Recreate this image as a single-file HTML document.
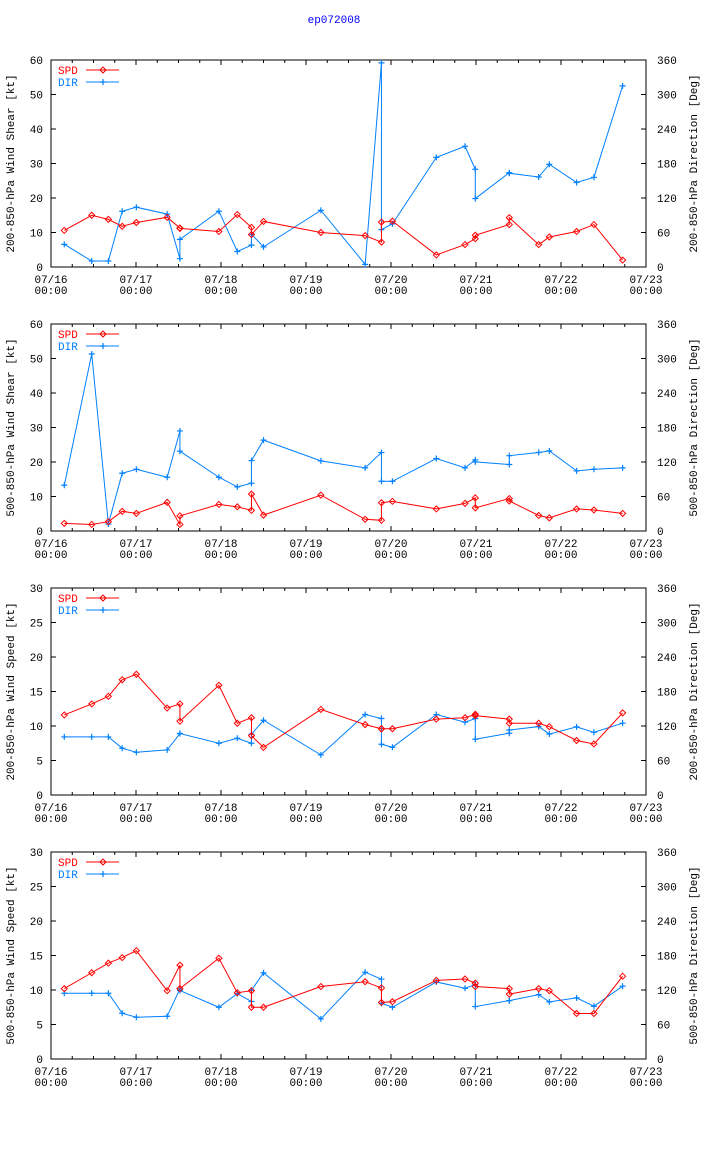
<!DOCTYPE html>
<html><head><meta charset="utf-8"><style>
body{margin:0;background:#fff;}
svg{display:block;font-family:"Liberation Mono",monospace;font-size:11px;}
</style></head><body>
<svg id="chart" width="704" height="1156" viewBox="0 0 704 1156" xmlns="http://www.w3.org/2000/svg">
<text x="334" y="23" fill="#0000ff" text-anchor="middle">ep072008</text>
</svg>
<script>
// shared observation times (hours since 07/16 00:00)
const hours = [3.75,11.5,16.2,20.1,24.1,32.8,36.4,36.4,47.4,52.6,56.6,56.6,60,76.2,88.7,93.3,93.3,96.4,108.8,116.9,119.8,119.8,129.4,129.4,137.7,140.7,148.4,153.3,161.4];
const dayLabels = ["07/16","07/17","07/18","07/19","07/20","07/21","07/22","07/23"];
// panel 1: 200-850 shear
const p1Spd = [10.6,15,13.8,11.8,12.9,14.4,11.3,11.2,10.3,15.2,11.5,9.4,13.2,10,9.1,7.2,13,13.3,3.5,6.5,8.2,9.2,12.3,14.3,6.5,8.7,10.3,12.3,2];
const p1Dir = [39.4,10.4,10.4,97,104,92,14.5,48,97,27,38,57,35,98.5,4.6,355,65,75,190.7,210,170,119,164,163,156.5,178.5,147,156,315];
// panel 2: 500-850 shear
const p2Spd = [2.2,1.9,2.7,5.7,5.1,8.3,1.9,4.4,7.7,7,6,10.7,4.6,10.4,3.4,3.1,8.2,8.6,6.4,8,9.6,6.7,9.4,8.7,4.5,3.8,6.4,6.1,5.1];
const p2Dir = [79.6,307.8,12.2,100.5,107.4,93.5,174,138.8,93.5,76.7,83,122.5,158,122,109.8,136.5,86.5,86.5,126,109.8,123.7,120.2,115.6,131,136.5,139.4,104.5,107.4,109.8];
// panel 3: 200-850 wind speed
const p3Spd = [11.6,13.2,14.3,16.7,17.5,12.6,13.2,10.7,15.9,10.4,11.2,8.6,6.9,12.4,10.2,9.6,9.6,9.6,11,11.2,11.7,11.5,11,10.4,10.4,9.9,7.9,7.4,11.9];
const p3Dir = [101,101,101,81.3,74.3,78.4,106.9,106.9,90,98.7,90,105.7,130,69.7,140,133,88.3,83,140,126.6,133,97,107.4,113,119,106,118.5,109,124.9];
// panel 4: 500-850 wind speed
const p4Spd = [10.2,12.5,13.9,14.7,15.7,9.9,13.6,10.2,14.6,9.6,9.9,7.5,7.5,10.5,11.2,10.3,8.2,8.3,11.4,11.6,11,10.5,10.2,9.4,10.2,9.9,6.6,6.6,12];
const p4Dir = [114.4,114.4,114.4,79.6,72.6,74.3,122,119,90,113.8,100,119.6,149.8,69.7,151,138.8,97,90,134,123,129.5,91.2,101.6,101.6,112,99.3,106.3,91.8,126.6];

const panels = [
 {spd:p1Spd, dir:p1Dir, kmax:60, kstep:10, left:"200-850-hPa Wind Shear [kt]", right:"200-850-hPa Direction [Deg]", id:"p1"},
 {spd:p2Spd, dir:p2Dir, kmax:60, kstep:10, left:"500-850-hPa Wind Shear [kt]", right:"500-850-hPa Direction [Deg]", id:"p2"},
 {spd:p3Spd, dir:p3Dir, kmax:30, kstep:5, left:"200-850-hPa Wind Speed [kt]", right:"200-850-hPa Direction [Deg]", id:"p3"},
 {spd:p4Spd, dir:p4Dir, kmax:30, kstep:5, left:"500-850-hPa Wind Speed [kt]", right:"500-850-hPa Direction [Deg]", id:"p4"}
];
const NS="http://www.w3.org/2000/svg";
const svg=document.getElementById('chart');
function mk(tag,attrs,parent){const e=document.createElementNS(NS,tag);for(const k in attrs)e.setAttribute(k,attrs[k]);(parent||svg).appendChild(e);return e;}
const X0=51,X1=646,W=X1-X0,H=207;
const RED="#ff0000",BLUE="#0080ff";
function diamond(g,x,y){return mk('path',{d:`M${x} ${y-3}L${x+3} ${y}L${x} ${y+3}L${x-3} ${y}Z`,fill:'none',stroke:RED,'stroke-width':1},g);}
function plus(g,x,y){return mk('path',{d:`M${x-3} ${y}H${x+3}M${x} ${y-3}V${y+3}`,stroke:BLUE,'stroke-width':1.2},g);}

panels.forEach((p,i)=>{
  const top=60+264*i, bot=top+H;
  const g=mk('g',{});
  
  
  const xs=h=>X0+h/168*W;
  const yk=v=>bot-v/p.kmax*H;
  const yd=v=>bot-v/360*H;
  const frame=mk('rect',{x:X0,y:top,width:W,height:H,fill:'none',stroke:'#000','stroke-width':1},g);
  
  
  for(let v=0;v<=p.kmax;v+=p.kstep){
    const y=yk(v);
    mk('line',{x1:X0,x2:X0+5,y1:y,y2:y,stroke:'#000'},g);
    const t=mk('text',{x:X0-8,y:y+4,'text-anchor':'end'},g);t.textContent=v;
    
    
  }
  for(let v=0;v<=360;v+=60){
    const y=yd(v);
    mk('line',{x1:X1-5,x2:X1,y1:y,y2:y,stroke:'#000'},g);
    const t=mk('text',{x:X1+11,y:y+4},g);t.textContent=v;
    
    
  }
  for(let h=0;h<=168;h+=6){
    const x=xs(h),len=h%24===0?5:3;
    mk('line',{x1:x,x2:x,y1:bot,y2:bot-len,stroke:'#000'},g);
    mk('line',{x1:x,x2:x,y1:top,y2:top+len,stroke:'#000'},g);
  }
  dayLabels.forEach((d,k)=>{
    const x=xs(k*24);
    const t=mk('text',{x:x,y:bot+16,'text-anchor':'middle'},g);t.textContent=d;
    
    
    const t2=mk('text',{x:x,y:bot+27,'text-anchor':'middle'},g);t2.textContent="00:00";
    
    
  });
  const cy=(top+bot)/2;
  const lt=mk('text',{x:14,y:cy,'text-anchor':'middle',transform:`rotate(-90 14 ${cy})`},g);lt.textContent=p.left;
  
  
  const rt=mk('text',{x:697,y:cy,'text-anchor':'middle',transform:`rotate(-90 697 ${cy})`},g);rt.textContent=p.right;
  
  
  const dPts=hours.map((h,k)=>[xs(h),yd(p.dir[k])]);
  const sPts=hours.map((h,k)=>[xs(h),yk(p.spd[k])]);
  const dl=mk('polyline',{points:dPts.map(q=>q.join(',')).join(' '),fill:'none',stroke:BLUE,'stroke-width':1},g);
  
  
  dPts.forEach(q=>{const m=plus(g,q[0],q[1]);
    
    });
  const sl=mk('polyline',{points:sPts.map(q=>q.join(',')).join(' '),fill:'none',stroke:RED,'stroke-width':1},g);
  
  
  sPts.forEach(q=>{const m=diamond(g,q[0],q[1]);
    
    });
  const l1=mk('text',{x:58,y:top+14,fill:RED},g);l1.textContent="SPD";
  
  
  mk('line',{x1:86,x2:119,y1:top+10,y2:top+10,stroke:RED},g);
  diamond(g,103,top+10);
  const l2=mk('text',{x:58,y:top+26,fill:BLUE},g);l2.textContent="DIR";
  
  
  mk('line',{x1:86,x2:119,y1:top+22,y2:top+22,stroke:BLUE},g);
  plus(g,103,top+22);
});
</script>
</body></html>
